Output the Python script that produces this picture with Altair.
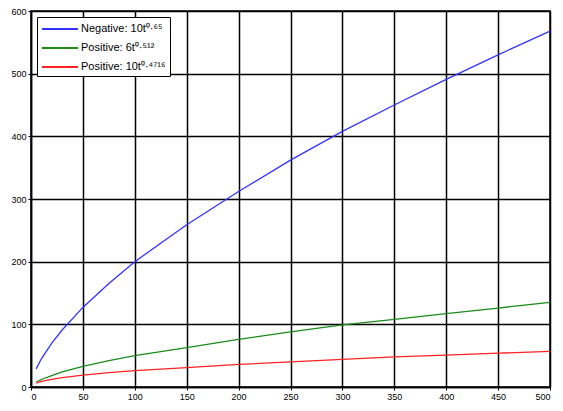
import altair as alt
import pandas as pd

x_vals = [5, 10, 20, 30, 50, 75, 100, 150, 200, 250, 300, 350, 400, 450, 500]
blue_vals = [29, 45, 70, 91, 127, 165, 200, 259, 312, 362, 408, 450, 491, 530, 568]
green_vals = [8, 12, 18, 24, 33, 42, 50, 63, 76, 88, 99, 108, 117, 126, 135]
red_vals = [6, 9, 12, 15, 19, 23, 26, 31, 36, 40, 44, 48, 51, 54, 57]

series_names = ["Negative: 10t\u2070\u00b7\u2076\u2075",
                "Positive: 6t\u2070\u00b7\u2075\u00b9\u00b2",
                "Positive: 10t\u2070\u00b7\u2074\u2077\u00b9\u2076"]
series_colors = ["#3333ff", "#1a8c1a", "#ff2222"]

rows = []
for name, vals in zip(series_names, [blue_vals, green_vals, red_vals]):
    for xv, yv in zip(x_vals, vals):
        rows.append({"t": xv, "v": yv, "series": name})
df = pd.DataFrame(rows)

chart = alt.Chart(df).mark_line(strokeWidth=1.3).encode(
    x=alt.X("t:Q", scale=alt.Scale(domain=[0, 500], nice=False),
            axis=alt.Axis(values=list(range(0, 501, 50)), title=None)),
    y=alt.Y("v:Q", scale=alt.Scale(domain=[0, 600], nice=False),
            axis=alt.Axis(values=list(range(0, 601, 100)), title=None)),
    color=alt.Color("series:N", sort=series_names,
                    scale=alt.Scale(domain=series_names, range=series_colors),
                    legend=alt.Legend(title=None, orient="none", legendX=6, legendY=6,
                                      symbolType="M-1,0H4.14", symbolSize=196,
                                      symbolStrokeWidth=2, labelFontSize=11,
                                      labelOffset=24,
                                      labelFont="Liberation Sans", labelColor="black",
                                      strokeColor="black", fillColor="white",
                                      padding=4, rowPadding=6, labelLimit=200)),
    detail="series:N",
).properties(
    width=519, height=376,
    autosize=alt.AutoSizeParams(type="none"),
    padding={"left": 23, "top": 3, "right": 5, "bottom": 20},
).configure_axis(
    grid=True, gridColor="black", gridOpacity=1, gridWidth=1.5,
    domainColor="black", domainWidth=1.5,
    tickColor="black", tickSize=3,
    labelFont="Liberation Sans", labelFontSize=9, labelColor="black",
).configure_view(stroke="black", strokeWidth=1.5)

chart.save("out.html", embed_options={"renderer": "svg", "actions": False})
